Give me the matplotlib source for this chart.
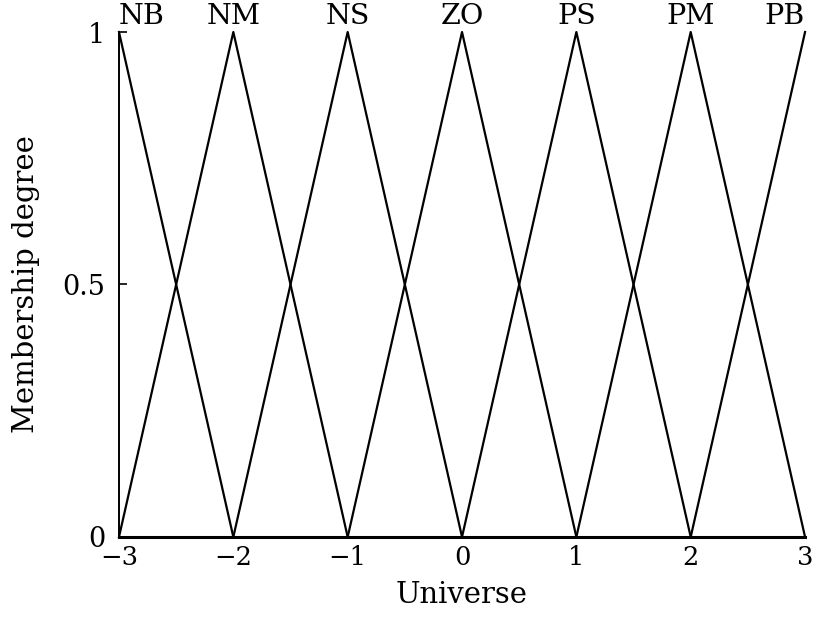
import numpy as np
import matplotlib.pyplot as plt

plt.rcParams['font.family'] = 'DejaVu Serif'
plt.rcParams['mathtext.fontset'] = 'dejavuserif'

# fuzzy sets on the universe [-3, 3]
labels = ['NB', 'NM', 'NS', 'ZO', 'PS', 'PM', 'PB']
centers = [-3, -2, -1, 0, 1, 2, 3]
x_ticks = [-3, -2, -1, 0, 1, 2, 3]
y_ticks = [0, 0.5, 1]

fig = plt.figure(figsize=(8.24, 6.17), dpi=100)
ax = fig.add_axes([0.1444, 0.1297, 0.8326, 0.8184])

for name, c in zip(labels, centers):
    xs = np.array([c - 1, c, c + 1])
    ys = np.array([0, 1, 0])
    keep = (xs >= -3) & (xs <= 3)
    ax.plot(xs[keep], ys[keep], color='black', lw=1.6, clip_on=False)
    # edge labels sit inside the axis range
    ha = 'left' if c == centers[0] else ('right' if c == centers[-1] else 'center')
    ax.text(c, 1.004, name, ha=ha, va='bottom', fontsize=20.5)

ax.set_xlim(-3, 3)
ax.set_ylim(0, 1)
ax.set_xticks(x_ticks)
ax.set_xticklabels([str(v).replace('-', '\u2212') for v in x_ticks])
ax.set_yticks(y_ticks)
ax.set_yticklabels(['0', '0.5', '1'])
ax.spines['top'].set_visible(False)
ax.spines['right'].set_visible(False)
ax.spines['bottom'].set_linewidth(2.2)
ax.spines['left'].set_linewidth(1.4)
ax.tick_params(axis='x', length=0, pad=6, labelsize=18.5)
ax.tick_params(axis='y', direction='in', length=6, width=1.2, pad=10, labelsize=19.5)
ax.set_xlabel('Universe', fontsize=21, labelpad=8)
ax.set_ylabel('Membership degree', fontsize=21, labelpad=16)

fig.savefig('out.png', dpi=100)
